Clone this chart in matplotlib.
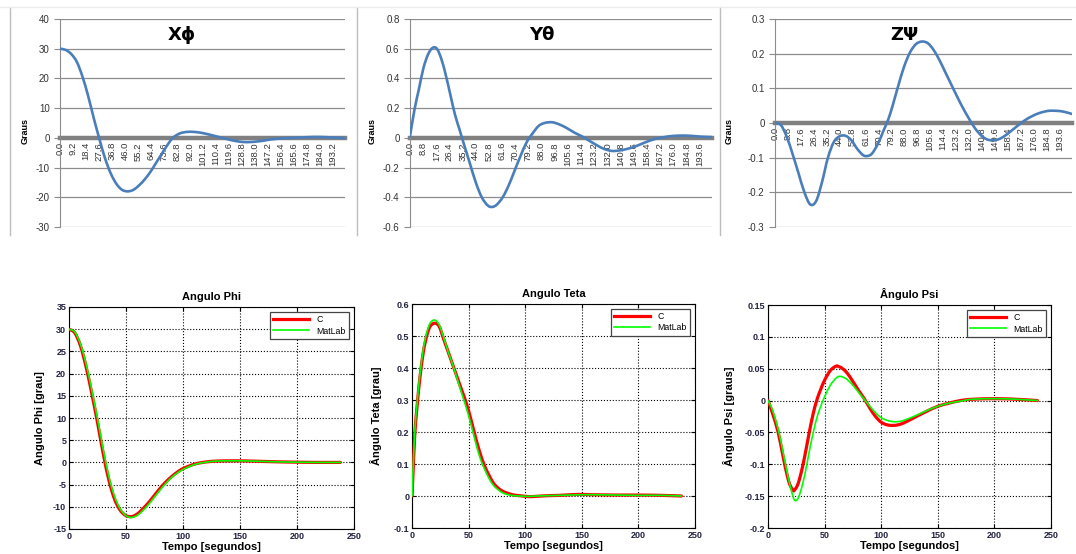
import numpy as np
import matplotlib.pyplot as plt
from matplotlib.lines import Line2D
from matplotlib.path import Path
from matplotlib.patches import PathPatch
from matplotlib.ticker import FuncFormatter

plt.rcParams['font.family'] = ['Liberation Sans', 'DejaVu Sans']

# ---- graficos de cima (Excel) ----
x_phi_xl = [0, 4, 8, 12, 16, 20, 24, 28, 32, 36, 40, 44, 48, 52, 56, 60, 64, 68, 72, 76, 80,
            85, 90, 95, 100, 105, 110, 115, 120, 125, 130, 135, 140, 145, 150, 160, 170, 180, 190, 202]
y_phi_xl = [30, 29.6, 28.2, 25.5, 20.5, 14, 6.5, -0.5, -7, -12, -15.5, -17.5, -18, -17.5, -16, -14,
            -11.5, -8.5, -5.5, -2.5, 0, 1.5, 2, 2, 1.7, 1.2, 0.6, 0, -0.6, -1.1, -1.4, -1.4, -1.2,
            -0.9, -0.5, -0.1, 0.1, 0.3, 0.2, -0.1]

x_teta_xl = [0, 3, 6, 9, 12, 15, 18, 21, 24, 27, 30, 33, 36, 40, 44, 48, 52, 55, 58, 62, 66, 70,
             74, 78, 82, 86, 90, 95, 100, 105, 110, 115, 120, 125, 130, 135, 140, 145, 150, 155,
             160, 165, 170, 175, 180, 185, 190, 195, 202]
y_teta_xl = [0.01, 0.19, 0.33, 0.47, 0.56, 0.605, 0.6, 0.53, 0.42, 0.29, 0.16, 0.06, -0.04, -0.17,
             -0.3, -0.4, -0.455, -0.465, -0.45, -0.4, -0.32, -0.22, -0.12, -0.03, 0.03, 0.08, 0.1,
             0.105, 0.09, 0.065, 0.035, 0.01, -0.02, -0.05, -0.075, -0.088, -0.085, -0.075, -0.06,
             -0.04, -0.02, -0.005, 0.005, 0.012, 0.015, 0.015, 0.012, 0.008, 0.005]

x_psi_xl = [0, 4, 8, 12, 16, 20, 24, 28, 32, 36, 40, 44, 48, 52, 56, 60, 63, 66, 70, 74, 77, 80,
            84, 88, 92, 96, 100, 104, 108, 112, 116, 120, 124, 128, 132, 136, 140, 144, 148, 152,
            156, 160, 165, 170, 175, 180, 186, 192, 197, 202]
y_psi_xl = [0, -0.006, -0.04, -0.09, -0.145, -0.2, -0.235, -0.225, -0.17, -0.1, -0.055, -0.038,
            -0.037, -0.05, -0.075, -0.093, -0.095, -0.088, -0.06, -0.02, 0.01, 0.05, 0.11, 0.165,
            0.205, 0.228, 0.235, 0.23, 0.21, 0.18, 0.145, 0.11, 0.075, 0.042, 0.012, -0.015,
            -0.035, -0.047, -0.05, -0.047, -0.038, -0.025, -0.008, 0.008, 0.02, 0.029, 0.035,
            0.035, 0.032, 0.026]

cat_phi = [0.0, 9.2, 18.4, 27.6, 36.8, 46.0, 55.2, 64.4, 73.6, 82.8, 92.0, 101.2, 110.4, 119.6,
           128.8, 138.0, 147.2, 156.4, 165.6, 174.8, 184.0, 193.2]
cat_88 = [0.0, 8.8, 17.6, 26.4, 35.2, 44.0, 52.8, 61.6, 70.4, 79.2, 88.0, 96.8, 105.6, 114.4,
          123.2, 132.0, 140.8, 149.6, 158.4, 167.2, 176.0, 184.8, 193.6]

# ---- graficos de baixo (MatLab) ----
t_phi = [0, 5, 10, 15, 20, 25, 30, 35, 40, 45, 50, 55, 60, 65, 70, 75, 80, 85, 90, 95, 100, 110,
         120, 130, 140, 150, 160, 180, 200, 220, 238]
phi_c = [30, 29.2, 26.3, 21.5, 15.5, 9, 2, -4, -8.3, -10.8, -12, -12.2, -11.6, -10.4, -9, -7.4,
         -5.8, -4.4, -3.2, -2.2, -1.4, -0.4, 0.1, 0.3, 0.35, 0.35, 0.3, 0.15, 0.05, 0, 0]
phi_m = [30, 29.4, 26.7, 22.2, 16.3, 9.9, 3, -3.2, -7.7, -10.5, -12, -12.4, -11.9, -10.8, -9.4,
         -7.8, -6.2, -4.7, -3.4, -2.4, -1.6, -0.5, 0.05, 0.3, 0.35, 0.35, 0.3, 0.15, 0.05, 0, 0]

t_teta = [0, 1, 2, 3, 5, 7, 10, 13, 16, 20, 24, 28, 32, 36, 40, 44, 48, 52, 56, 60, 64, 68, 72,
          76, 80, 85, 90, 95, 100, 105, 110, 120, 130, 140, 150, 160, 180, 200, 220, 238]
teta_c = [0, 0.08, 0.16, 0.22, 0.3, 0.37, 0.45, 0.5, 0.53, 0.54, 0.53, 0.49, 0.45, 0.41, 0.37,
          0.33, 0.29, 0.24, 0.185, 0.135, 0.095, 0.065, 0.04, 0.025, 0.015, 0.008, 0.003, 0.001,
          -0.001, -0.002, -0.001, 0.001, 0.002, 0.004, 0.005, 0.004, 0.003, 0.003, 0.002, 0]
teta_m = [0, 0.09, 0.17, 0.23, 0.31, 0.38, 0.46, 0.51, 0.54, 0.55, 0.535, 0.495, 0.45, 0.41,
          0.365, 0.32, 0.275, 0.225, 0.17, 0.12, 0.085, 0.055, 0.033, 0.02, 0.01, 0.004, 0.001,
          0, -0.001, -0.001, 0, 0.001, 0.002, 0.003, 0.004, 0.004, 0.003, 0.002, 0.002, 0]

t_psi = [0, 4, 9, 13, 18, 22, 24, 26, 28, 31, 34, 37, 40, 43, 46, 50, 55, 60, 63, 66, 70, 75, 80,
         85, 90, 95, 100, 105, 110, 115, 120, 130, 140, 150, 160, 170, 180, 200, 220, 238]
psi_c = [0, -0.02, -0.05, -0.085, -0.125, -0.141, -0.139, -0.133, -0.122, -0.1, -0.073, -0.045,
         -0.02, 0.0, 0.015, 0.032, 0.047, 0.054, 0.053, 0.05, 0.043, 0.03, 0.016, 0.003, -0.012,
         -0.025, -0.034, -0.038, -0.039, -0.038, -0.035, -0.026, -0.017, -0.009, -0.004, 0.0,
         0.002, 0.003, 0.002, 0]
psi_m = [0, -0.015, -0.045, -0.078, -0.122, -0.15, -0.157, -0.155, -0.147, -0.128, -0.103, -0.075,
         -0.05, -0.028, -0.012, 0.006, 0.024, 0.035, 0.038, 0.037, 0.033, 0.024, 0.013, 0.002,
         -0.009, -0.019, -0.027, -0.031, -0.033, -0.033, -0.031, -0.024, -0.016, -0.009, -0.004,
         -0.001, 0.002, 0.003, 0.002, 0]

fmt_g = FuncFormatter(lambda v, p: ('%g' % (round(v, 4) + 0.0)))

fig = plt.figure(figsize=(10.76, 5.54), dpi=100)
W, H = 1076.0, 554.0


def px_axes(x0, x1, y0, y1):
    return fig.add_axes([x0 / W, 1 - y1 / H, (x1 - x0) / W, (y1 - y0) / H])


def linha_suave(ax, x, y, **kw):
    # linha suavizada (como a opcao "linha suave" do Excel): bezier por Catmull-Rom
    p = np.column_stack([x, y]).astype(float)
    pe = np.vstack([p[0], p, p[-1]])
    verts = [p[0]]
    codes = [Path.MOVETO]
    for i in range(1, len(pe) - 2):
        c1 = pe[i] + (pe[i + 1] - pe[i - 1]) / 6.0
        c2 = pe[i + 1] - (pe[i + 2] - pe[i]) / 6.0
        verts += [c1, c2, pe[i + 1]]
        codes += [Path.CURVE4] * 3
    patch = PathPatch(Path(verts, codes), facecolor='none', transform=ax.transData,
                      capstyle='round', joinstyle='round', **kw)
    ax.add_patch(patch)
    return patch


def excel_chart(box, x, y, cats, ylim, ystep, titulo, tpos, lab_x):
    ax = px_axes(*box)
    linha_suave(ax, x, y, edgecolor='#4a7ebb', lw=1.9, zorder=3)
    ax.set_xlim(0, 202)
    ax.set_ylim(*ylim)
    ax.set_yticks(np.arange(ylim[0], ylim[1] + ystep / 2, ystep))
    ax.yaxis.set_major_formatter(fmt_g)
    ax.grid(axis='y', color='#8c8c8c', lw=0.9)
    ax.set_axisbelow(True)
    for s in ['top', 'right']:
        ax.spines[s].set_visible(False)
    ax.spines['left'].set_color('#8c8c8c')
    ax.spines['bottom'].set_position(('data', 0))
    ax.spines['bottom'].set_color('#808080')
    ax.spines['bottom'].set_linewidth(3.2)
    ax.spines['bottom'].set_zorder(2)
    ax.set_xticks(cats)
    ax.set_xticklabels(['%.1f' % c for c in cats], rotation=90, fontsize=6.8, color='#333333')
    ax.tick_params(axis='x', length=0, pad=3)
    ax.tick_params(axis='y', length=4, color='#8c8c8c', labelsize=7, labelcolor='#333333')
    ax.set_ylabel('Graus', fontsize=6.5, fontweight='bold')
    ax.yaxis.set_label_coords(lab_x, 0.46)
    ax.text(tpos, 0.925, titulo, transform=ax.transAxes, ha='center', va='center',
            fontsize=13, fontweight='bold', family=['DejaVu Sans'])
    return ax


excel_chart((60, 345, 19, 227), x_phi_xl, y_phi_xl, cat_phi, (-30, 40), 10, 'Xϕ', 0.428, -0.105)
excel_chart((410, 712, 19, 227), x_teta_xl, y_teta_xl, cat_88, (-0.6, 0.8), 0.2, 'Yθ', 0.437, -0.112)
excel_chart((775, 1072, 19, 227), x_psi_xl, y_psi_xl, cat_88, (-0.3, 0.3), 0.1, 'ZΨ', 0.434, -0.138)

# molduras dos graficos Excel
for xl in [10, 357, 720]:
    fig.add_artist(Line2D([xl / W, xl / W], [1 - 7 / H, 1 - 235 / H], color='#bdbdbd', lw=1))
fig.add_artist(Line2D([0, 1], [1 - 7 / H, 1 - 7 / H], color='#ececec', lw=1))


def matlab_chart(box, t, yc, ym, ylim, ystep, titulo, ylab, lab_x):
    ax = px_axes(*box)
    linha_suave(ax, t, yc, edgecolor='#ff0000', lw=2.3, zorder=3)
    linha_suave(ax, t, ym, edgecolor='#00ff00', lw=1.2, zorder=4)
    ax.set_xlim(0, 250)
    ax.set_ylim(*ylim)
    ax.set_xticks([0, 50, 100, 150, 200, 250])
    ax.set_yticks(np.arange(ylim[0], ylim[1] + ystep / 2, ystep))
    ax.yaxis.set_major_formatter(fmt_g)
    ax.grid(True, color='black', ls=':', lw=0.8)
    for s in ax.spines.values():
        s.set_linewidth(0.8)
    ax.tick_params(direction='in', length=3, labelsize=6.5, top=True, right=True, pad=2)
    for lb in ax.get_xticklabels() + ax.get_yticklabels():
        lb.set_fontweight('bold')
        lb.set_color('#222244')
    ax.set_title(titulo, fontsize=8, fontweight='bold', pad=5)
    ax.set_xlabel('Tempo [segundos]', fontsize=8, fontweight='bold', labelpad=1)
    ax.set_ylabel(ylab, fontsize=8, fontweight='bold')
    ax.yaxis.set_label_coords(lab_x, 0.5)
    handles = [Line2D([], [], color='#ff0000', lw=2.3), Line2D([], [], color='#00ff00', lw=1.2)]
    leg = ax.legend(handles, ['C', 'MatLab'], loc='upper right', fontsize=6.3, fancybox=False,
                    framealpha=1, edgecolor='#444444', handlelength=4.2, borderaxespad=0.6,
                    borderpad=0.35, labelspacing=0.25)
    leg.get_frame().set_linewidth(0.9)
    return ax


matlab_chart((69, 354, 307, 529), t_phi, phi_c, phi_m, (-15, 35), 5,
             'Angulo Phi', 'Angulo Phi [grau]', -0.085)
matlab_chart((412, 695, 304, 528), t_teta, teta_c, teta_m, (-0.1, 0.6), 0.1,
             'Angulo Teta', 'Ângulo Teta [grau]', -0.105)
matlab_chart((768, 1051, 305, 528), t_psi, psi_c, psi_m, (-0.2, 0.15), 0.05,
             'Ângulo Psi', 'Ângulo Psi [graus]', -0.115)

fig.savefig('out.png', dpi=100)
